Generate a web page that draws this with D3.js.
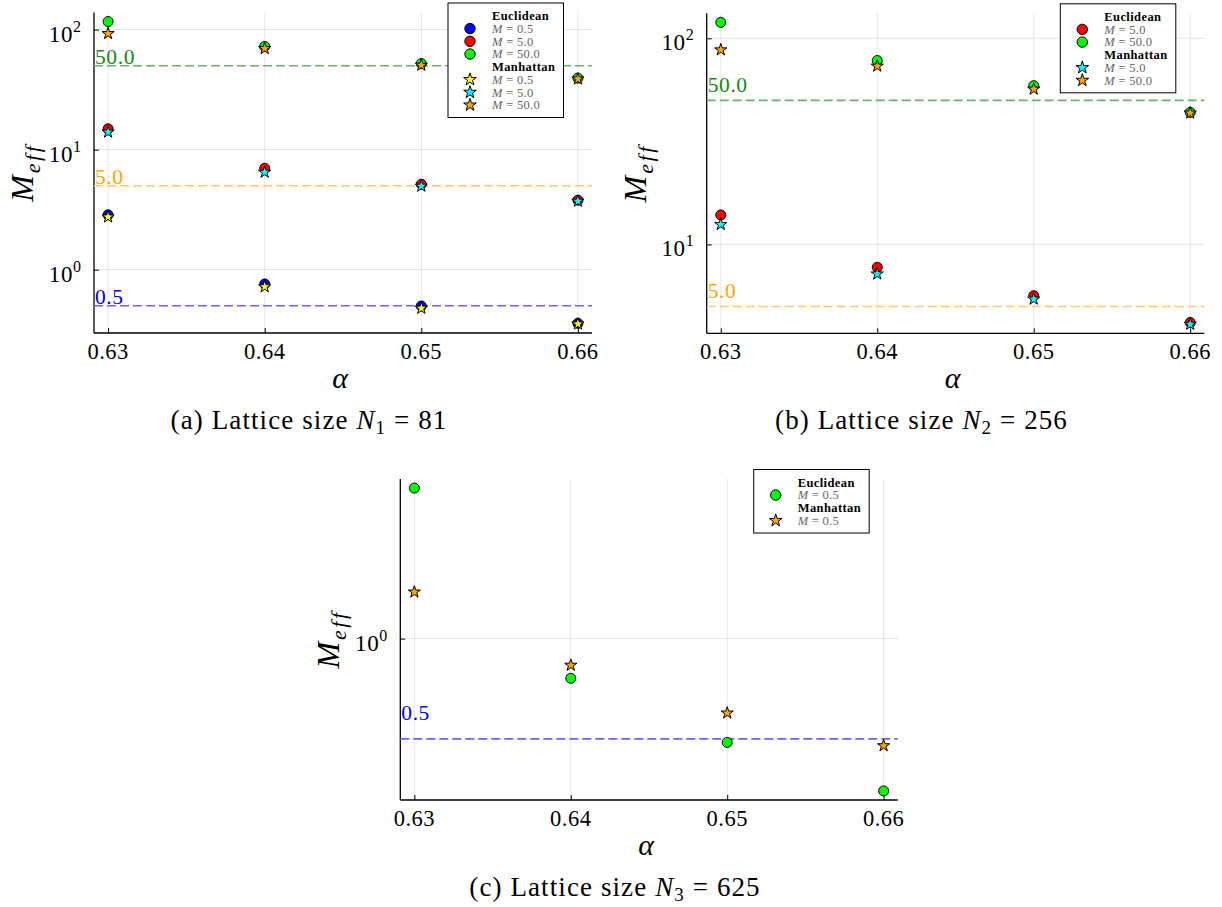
<!DOCTYPE html>
<html>
<head>
<meta charset="utf-8">
<script src="https://cdn.jsdelivr.net/npm/d3@7"></script>
<style>
  html, body { margin: 0; padding: 0; background: #fff; }
  svg { display: block; }
  text { font-family: 'Liberation Serif', 'Times New Roman', serif; font-variant-ligatures: none; }
</style>
</head>
<body>
<svg id="chart" width="1222" height="907"></svg>
<script>
// ---------------- data ----------------
const alphaValues = [0.63, 0.64, 0.65, 0.66];
const xTickValues = [0.63, 0.64, 0.65, 0.66];

// (a) N1 = 81
const aEuclid05 = [2.86, 0.76, 0.498, 0.357];
const aEuclid5  = [14.9, 7.0, 5.15, 3.79];
const aEuclid50 = [116.6, 72.2, 52.1, 39.4];
const aManhat05 = [2.75, 0.72, 0.477, 0.353];
const aManhat5  = [14.0, 6.48, 4.96, 3.72];
const aManhat50 = [92.6, 69.5, 50.5, 38.8];

// (b) N2 = 256
const bEuclid5  = [13.9, 7.74, 5.64, 4.18];
const bEuclid50 = [119.5, 78.0, 58.9, 43.7];
const bManhat5  = [12.5, 7.19, 5.43, 4.10];
const bManhat50 = [87.9, 73.3, 56.7, 43.4];

// (c) N3 = 625
const cEuclid05 = [2.83, 0.76, 0.488, 0.349];
const cManhat05 = [1.38, 0.832, 0.598, 0.477];

// y tick exponents (10^k)
const aYTickExp = [0, 1, 2];
const bYTickExp = [1, 2];
const cYTickExp = [0];

// reference (target M) lines
const aRefLines = [50.0, 5.0, 0.5];
const bRefLines = [50.0, 5.0];
const cRefLines = [0.5];

const captions = [
  {label: "(a) Lattice size ", sym: "N", sub: "1", rest: " = 81"},
  {label: "(b) Lattice size ", sym: "N", sub: "2", rest: " = 256"},
  {label: "(c) Lattice size ", sym: "N", sub: "3", rest: " = 625"}
];

// ---------------- styles ----------------
const seriesColor = {"0.5": "#0000ff", "5.0": "#ff0000", "50.0": "#00ff00"};
const manhatColor = {"0.5": "#ffff00", "5.0": "#00ffff", "50.0": "#ffa500"};
const refStyle = {
  "50.0": {line: "rgb(102,179,102)", text: "#138a13"},
  "5.0":  {line: "rgb(255,201,102)", text: "#ffa500"},
  "0.5":  {line: "rgb(102,102,255)", text: "#0000ff"}
};

const panels = [
  {
    left: 94, right: 592, top: 12.5, bottom: 333, yTickExp: aYTickExp, refLines: aRefLines, caption: captions[0],
    euclid: [["0.5", aEuclid05, seriesColor["0.5"]], ["5.0", aEuclid5, seriesColor["5.0"]], ["50.0", aEuclid50, seriesColor["50.0"]]],
    manhat: [["0.5", aManhat05, manhatColor["0.5"]], ["5.0", aManhat5, manhatColor["5.0"]], ["50.0", aManhat50, manhatColor["50.0"]]]
  },
  {
    left: 706.7, right: 1204.3, top: 13.3, bottom: 333.3, yTickExp: bYTickExp, refLines: bRefLines, caption: captions[1],
    euclid: [["5.0", bEuclid5, seriesColor["5.0"]], ["50.0", bEuclid50, seriesColor["50.0"]]],
    manhat: [["5.0", bManhat5, manhatColor["5.0"]], ["50.0", bManhat50, manhatColor["50.0"]]]
  },
  {
    left: 400.3, right: 897.7, top: 479, bottom: 800, yTickExp: cYTickExp, refLines: cRefLines, caption: captions[2],
    euclid: [["0.5", cEuclid05, "#00ff00"]],
    manhat: [["0.5", cManhat05, "#ffa500"]]
  }
];

const svg = d3.select("#chart");
const starSym = d3.symbol().type(d3.symbolStar).size(46);
const starSymLeg = d3.symbol().type(d3.symbolStar).size(50);

panels.forEach(p => {
  const g = svg.append("g");
  // x scale with 3% padding
  const xr = d3.extent(alphaValues);
  const xpad = (xr[1] - xr[0]) * 0.03;
  const x = d3.scaleLinear().domain([xr[0] - xpad, xr[1] + xpad]).range([p.left, p.right]);
  // y log scale with 3% padding in log space
  const allVals = p.euclid.concat(p.manhat).flatMap(s => s[1]);
  const lr = d3.extent(allVals.map(v => Math.log10(v)));
  const lpad = (lr[1] - lr[0]) * 0.03;
  const y = d3.scaleLog().domain([Math.pow(10, lr[0] - lpad), Math.pow(10, lr[1] + lpad)]).range([p.bottom, p.top]);

  // grid
  g.append("g").selectAll("line").data(xTickValues).join("line")
    .attr("x1", d => x(d)).attr("x2", d => x(d)).attr("y1", p.top).attr("y2", p.bottom)
    .attr("stroke", "#000").attr("stroke-opacity", 0.1).attr("stroke-width", 1);
  g.append("g").selectAll("line").data(p.yTickExp).join("line")
    .attr("x1", p.left).attr("x2", p.right).attr("y1", d => y(Math.pow(10, d))).attr("y2", d => y(Math.pow(10, d)))
    .attr("stroke", "#000").attr("stroke-opacity", 0.1).attr("stroke-width", 1);

  // axes via d3
  const xAxis = d3.axisBottom(x).tickValues(xTickValues).tickSize(-5).tickFormat("");
  g.append("g").attr("transform", `translate(0,${p.bottom})`).call(xAxis)
    .call(s => s.select(".domain").attr("d", `M${p.left},0H${p.right}`).attr("stroke-width", 1.3));
  const yAxis = d3.axisLeft(y).tickValues(p.yTickExp.map(e => Math.pow(10, e))).tickSize(-5).tickFormat("");
  g.append("g").attr("transform", `translate(${p.left},0)`).call(yAxis)
    .call(s => s.select(".domain").attr("d", `M0,${p.top}V${p.bottom}`).attr("stroke-width", 1.3));

  // x tick labels
  g.append("g").selectAll("text").data(xTickValues).join("text")
    .attr("x", d => x(d)).attr("y", p.bottom + 26)
    .attr("text-anchor", "middle").attr("font-size", 22.5).attr("letter-spacing", 0.5).attr("fill", "#000")
    .text(d => d3.format(".2f")(d));

  // y tick labels 10^k
  p.yTickExp.forEach(e => {
    const t = g.append("text").attr("x", p.left - 13).attr("y", y(Math.pow(10, e)) + 12)
      .attr("text-anchor", "end").attr("font-size", 23).attr("fill", "#000");
    t.append("tspan").attr("letter-spacing", 0.6).text("10");
    t.append("tspan").attr("dy", -10).attr("font-size", 16).text(String(e));
  });

  // reference dashed lines + labels
  p.refLines.forEach(v => {
    const st = refStyle[v.toFixed(1)];
    g.append("line").attr("x1", p.left).attr("x2", p.right).attr("y1", y(v)).attr("y2", y(v))
      .attr("stroke", st.line).attr("stroke-width", 1.6).attr("stroke-dasharray", "9,4");
    g.append("text").attr("x", p.left + 1).attr("y", y(v * 1.2)).attr("dy", "0.35em")
      .attr("font-size", 21.5).attr("letter-spacing", 0.6).attr("fill", st.text).text(v.toFixed(1));
  });

  // points: Euclidean circles then Manhattan stars
  p.euclid.forEach(([m, vals, col]) => {
    g.append("g").selectAll("circle").data(vals).join("circle")
      .attr("cx", (d, i) => x(alphaValues[i])).attr("cy", d => y(d)).attr("r", 5)
      .attr("fill", col).attr("stroke", "#000").attr("stroke-width", 1);
  });
  p.manhat.forEach(([m, vals, col]) => {
    g.append("g").selectAll("path").data(vals).join("path")
      .attr("d", starSym)
      .attr("transform", (d, i) => `translate(${x(alphaValues[i])},${y(d)})`)
      .attr("fill", col).attr("stroke", "#000").attr("stroke-width", 1);
  });

  // axis titles
  g.append("text").attr("x", (p.left + p.right) / 2 - 3).attr("y", p.bottom + 55)
    .attr("text-anchor", "middle").attr("font-size", 30).attr("font-style", "italic").text("α");
  const yl = g.append("text")
    .attr("transform", `translate(${p.left - 61},${(p.top + p.bottom) / 2}) rotate(-90)`)
    .attr("text-anchor", "middle").attr("font-style", "italic");
  yl.append("tspan").attr("font-size", 32).text("M");
  yl.append("tspan").attr("font-size", 22).attr("dy", 7).attr("dx", 2).attr("letter-spacing", 2.5).text("eff");

  // caption
  const c = p.caption;
  const ct = g.append("text").attr("x", (p.left + p.right) / 2 - 34).attr("y", p.bottom + 96)
    .attr("text-anchor", "middle").attr("font-size", 27).attr("letter-spacing", 1.1);
  ct.append("tspan").text(c.label);
  ct.append("tspan").attr("font-style", "italic").text(c.sym);
  ct.append("tspan").attr("font-size", 19).attr("dy", 5).text(c.sub);
  ct.append("tspan").attr("dy", -5).text(c.rest);

  // legend
  const rows = [];
  rows.push({title: "Euclidean"});
  p.euclid.forEach(s => rows.push({shape: "circle", col: s[2], m: s[0]}));
  rows.push({title: "Manhattan"});
  p.manhat.forEach(s => rows.push({shape: "star", col: s[2], m: s[0]}));
  const step = 12.75;
  const lx = p.right - 28.5 - 115.5, ly = p.top - 9.5;
  const lh = rows.length * step + 12.5;
  const lg = g.append("g");
  lg.append("rect").attr("x", lx).attr("y", ly).attr("width", 115.5).attr("height", lh)
    .attr("fill", "#fff").attr("stroke", "#000").attr("stroke-width", 1);
  rows.forEach((r, i) => {
    const cy = ly + 12.8 + i * step;
    if (r.title) {
      lg.append("text").attr("x", lx + 44).attr("y", cy).attr("dy", "0.35em")
        .attr("font-size", 12.5).attr("font-weight", "bold").attr("letter-spacing", 0.4).attr("fill", "#000").text(r.title);
    } else {
      if (r.shape === "circle") {
        lg.append("circle").attr("cx", lx + 22).attr("cy", cy).attr("r", 5.2)
          .attr("fill", r.col).attr("stroke", "#000").attr("stroke-width", 1);
      } else {
        lg.append("path").attr("d", starSymLeg).attr("transform", `translate(${lx + 22},${cy})`)
          .attr("fill", r.col).attr("stroke", "#000").attr("stroke-width", 1);
      }
      const t = lg.append("text").attr("x", lx + 44).attr("y", cy).attr("dy", "0.35em")
        .attr("font-size", 12.5).attr("letter-spacing", 0.3).attr("fill", "#666");
      t.append("tspan").attr("font-style", "italic").text("M");
      t.append("tspan").text(" = " + r.m);
    }
  });
});
</script>
</body>
</html>
